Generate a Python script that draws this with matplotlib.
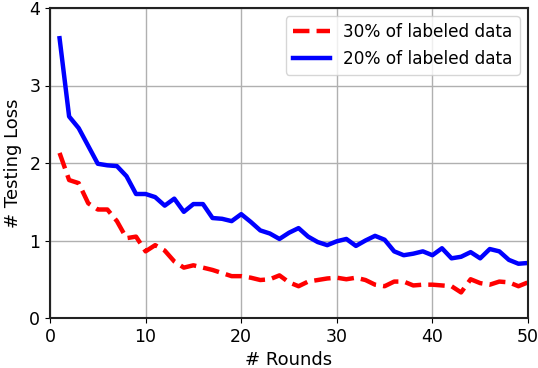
import matplotlib
matplotlib.use("Agg")
import matplotlib.pyplot as plt
import numpy as np

rounds = np.arange(1, 51)

loss_30 = [2.13, 1.78, 1.74, 1.48, 1.40, 1.40, 1.25, 1.03, 1.05, 0.86,
           0.94, 0.87, 0.73, 0.65, 0.68, 0.65, 0.62, 0.58, 0.54, 0.54,
           0.52, 0.49, 0.50, 0.55, 0.46, 0.41, 0.47, 0.49, 0.51, 0.52,
           0.50, 0.52, 0.49, 0.43, 0.41, 0.47, 0.47, 0.42, 0.43, 0.43,
           0.42, 0.41, 0.33, 0.50, 0.45, 0.43, 0.47, 0.46, 0.41, 0.46]

loss_20 = [3.61, 2.60, 2.45, 2.22, 1.99, 1.97, 1.96, 1.83, 1.60, 1.60,
           1.56, 1.45, 1.54, 1.37, 1.47, 1.47, 1.29, 1.28, 1.25, 1.34,
           1.24, 1.13, 1.09, 1.02, 1.10, 1.16, 1.05, 0.98, 0.94, 0.99,
           1.02, 0.93, 1.00, 1.06, 1.01, 0.86, 0.81, 0.83, 0.86, 0.81,
           0.90, 0.77, 0.79, 0.85, 0.77, 0.89, 0.86, 0.75, 0.70, 0.71]

fig = plt.figure(figsize=(5.38, 3.68), dpi=100)
ax = fig.add_axes([50 / 538, 1 - 318 / 368, 478 / 538, 310 / 368])

ax.plot(rounds, loss_30, color="red", linestyle="--", linewidth=3.2,
        label="30% of labeled data")
ax.plot(rounds, loss_20, color="blue", linestyle="-", linewidth=3.2,
        label="20% of labeled data")

ax.set_xlim(0, 50)
ax.set_ylim(0, 4)
ax.set_xticks([0, 10, 20, 30, 40, 50])
ax.set_yticks([0, 1, 2, 3, 4])
ax.grid(True, color="#b0b0b0", linewidth=1)
ax.tick_params(labelsize=12.5)
for s in ax.spines.values():
    s.set_linewidth(1.5)
    s.set_color("#222222")

ax.set_xlabel("# Rounds", fontsize=13, labelpad=3.5)
ax.set_ylabel("# Testing Loss", fontsize=13, labelpad=5)
ax.legend(loc="upper right", fontsize=12.2, handlelength=2.2)

fig.savefig("out.png", dpi=100)
